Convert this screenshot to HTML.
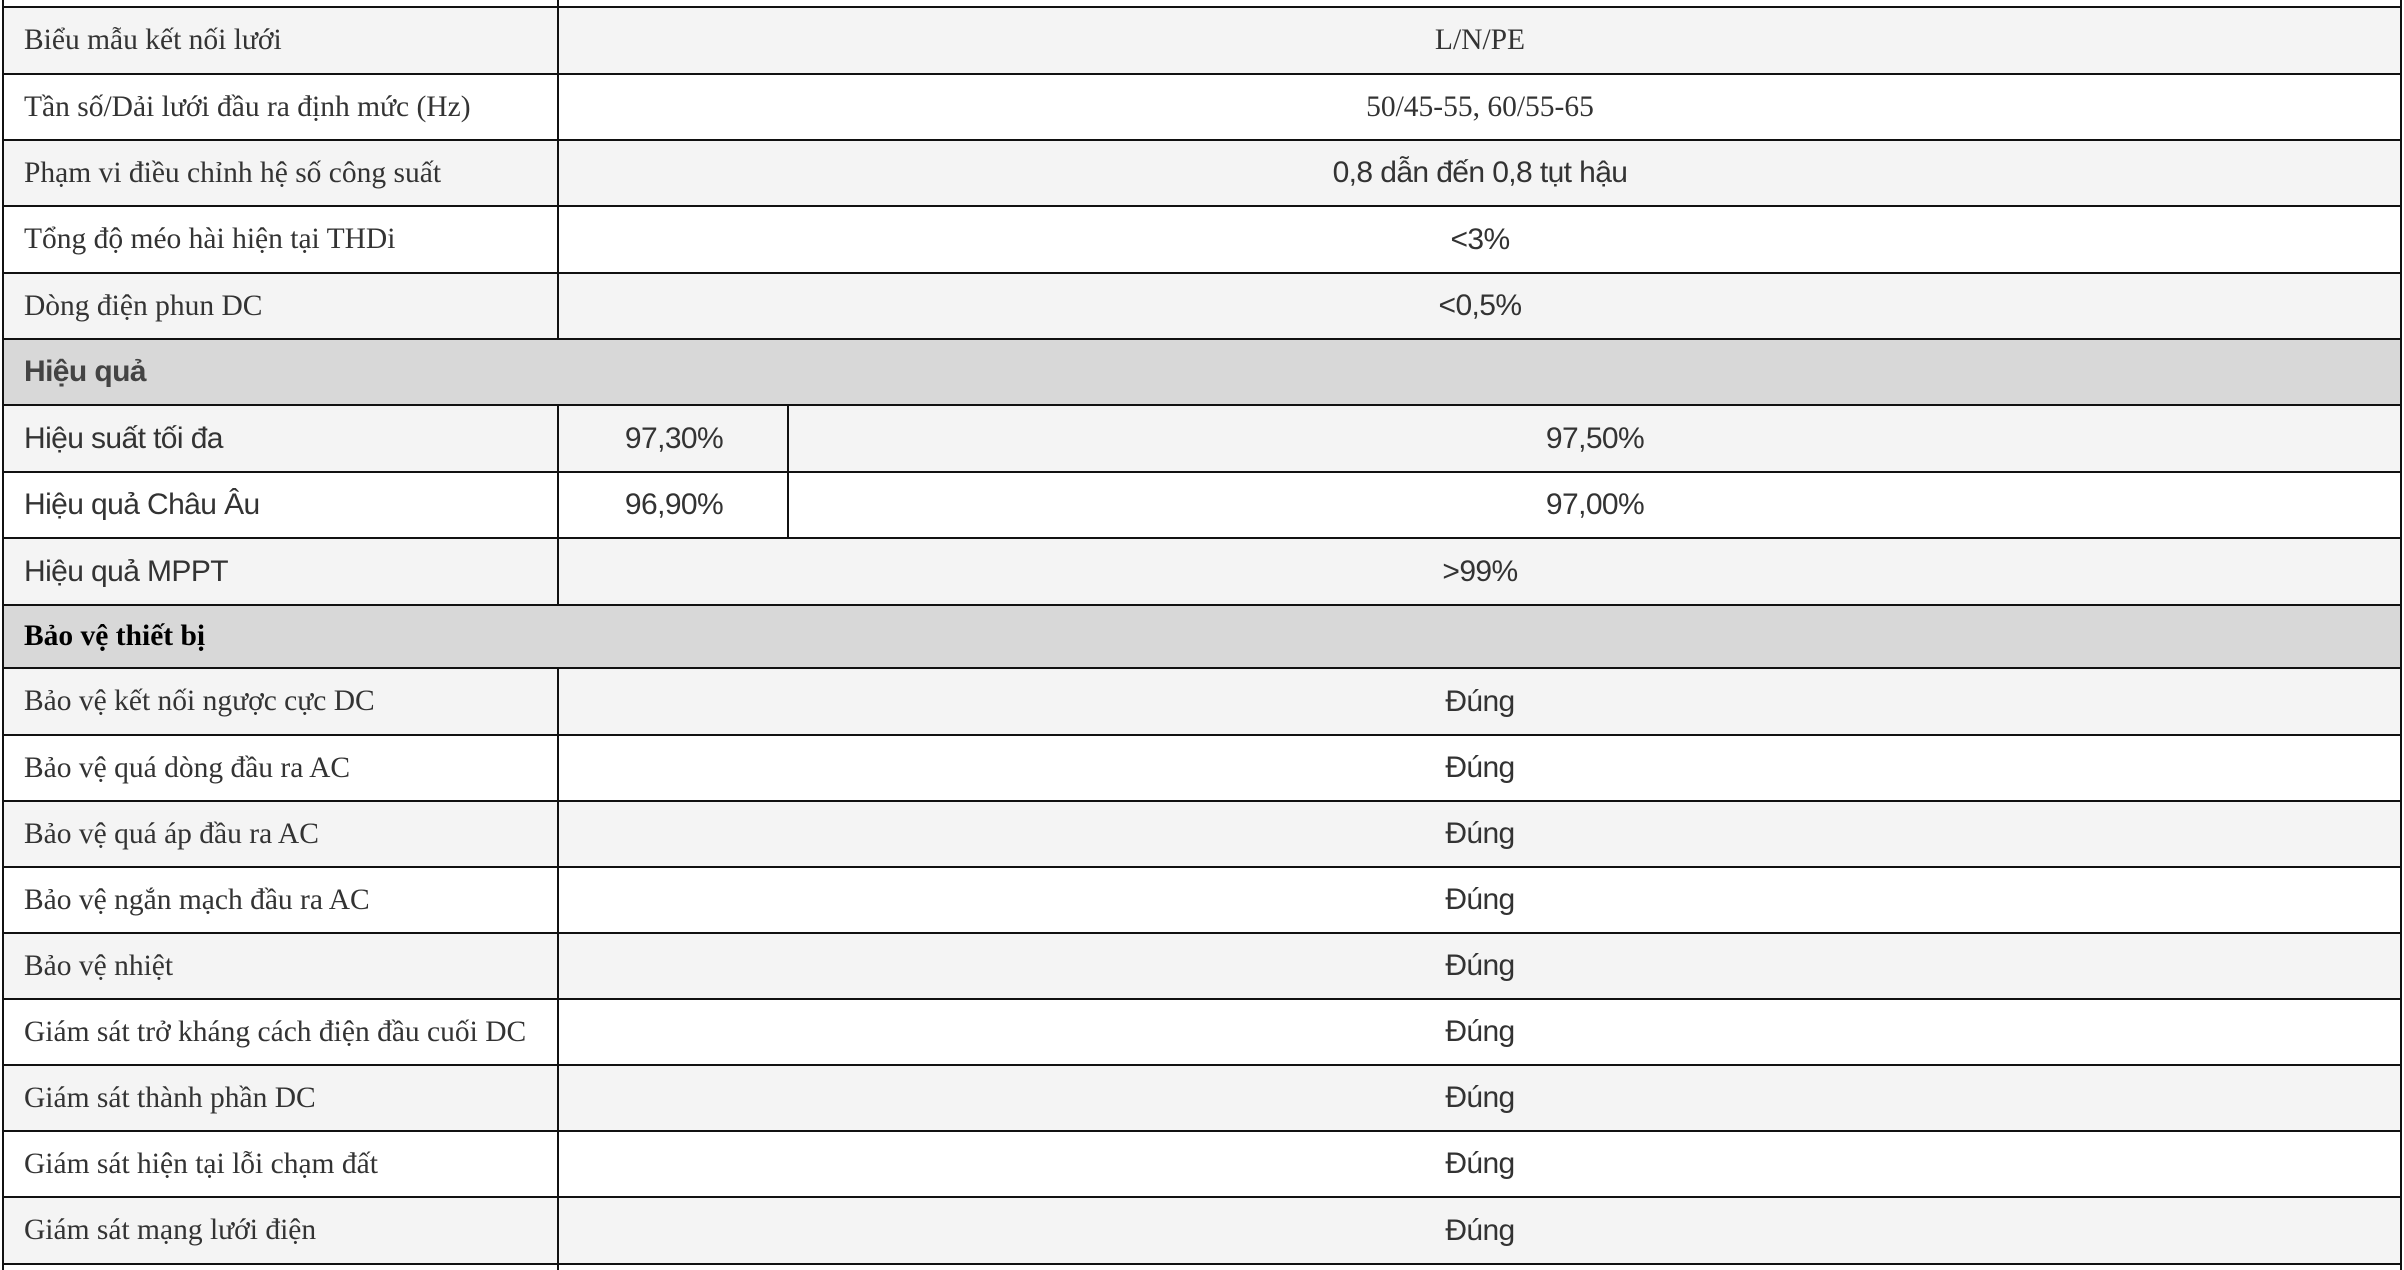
<!DOCTYPE html>
<html><head><meta charset="utf-8"><style>
html,body{margin:0;padding:0;background:#fff;width:2404px;height:1270px;overflow:hidden;position:relative}
.r{position:absolute;left:3px;width:2398px;box-sizing:border-box;border-top:2px solid #111}
.g{background:#f4f4f4}.w{background:#fff}.h{background:#d8d8d8}
.c{position:absolute;top:0;bottom:0;display:flex;align-items:center;color:#333;white-space:nowrap}
.l{left:21px}
.v{left:554px;right:0;justify-content:center;border-left:2px solid #111}
.v1{left:554px;width:230px;justify-content:center;border-left:2px solid #111}
.v2{left:784px;right:0;justify-content:center;border-left:2px solid #111}
.s{font-family:"Liberation Serif",serif;font-size:29.5px}
.a{font-family:"Liberation Sans",sans-serif;font-size:30px;letter-spacing:-0.6px}
.vl{position:absolute;top:0;height:1270px;width:2px;background:#111}
</style></head><body>
<div class="r w" style="top:-60px;height:68px"><div class="c v"></div></div>
<div class="r g" style="top:6px;height:67px"><div class="c l s">Biểu mẫu kết nối lưới</div><div class="c v s">L/N/PE</div></div>
<div class="r w" style="top:73px;height:66px"><div class="c l s">Tần số/Dải lưới đầu ra định mức (Hz)</div><div class="c v s">50/45-55, 60/55-65</div></div>
<div class="r g" style="top:139px;height:66px"><div class="c l s">Phạm vi điều chỉnh hệ số công suất</div><div class="c v a">0,8 dẫn đến 0,8 tụt hậu</div></div>
<div class="r w" style="top:205px;height:67px"><div class="c l s">Tổng độ méo hài hiện tại THDi</div><div class="c v a">&lt;3%</div></div>
<div class="r g" style="top:272px;height:66px"><div class="c l s">Dòng điện phun DC</div><div class="c v a">&lt;0,5%</div></div>
<div class="r h" style="top:338px;height:66px"><div class="c l a" style="font-weight:bold;color:#444">Hiệu quả</div></div>
<div class="r g" style="top:404px;height:67px"><div class="c l a">Hiệu suất tối đa</div><div class="c v1 a">97,30%</div><div class="c v2 a">97,50%</div></div>
<div class="r w" style="top:471px;height:66px"><div class="c l a">Hiệu quả Châu Âu</div><div class="c v1 a">96,90%</div><div class="c v2 a">97,00%</div></div>
<div class="r g" style="top:537px;height:67px"><div class="c l a">Hiệu quả MPPT</div><div class="c v a">&gt;99%</div></div>
<div class="r h" style="top:604px;height:63px"><div class="c l s" style="font-weight:bold;color:#000">Bảo vệ thiết bị</div></div>
<div class="r g" style="top:667px;height:67px"><div class="c l s">Bảo vệ kết nối ngược cực DC</div><div class="c v a">Đúng</div></div>
<div class="r w" style="top:734px;height:66px"><div class="c l s">Bảo vệ quá dòng đầu ra AC</div><div class="c v a">Đúng</div></div>
<div class="r g" style="top:800px;height:66px"><div class="c l s">Bảo vệ quá áp đầu ra AC</div><div class="c v a">Đúng</div></div>
<div class="r w" style="top:866px;height:66px"><div class="c l s">Bảo vệ ngắn mạch đầu ra AC</div><div class="c v a">Đúng</div></div>
<div class="r g" style="top:932px;height:66px"><div class="c l s">Bảo vệ nhiệt</div><div class="c v a">Đúng</div></div>
<div class="r w" style="top:998px;height:66px"><div class="c l s">Giám sát trở kháng cách điện đầu cuối DC</div><div class="c v a">Đúng</div></div>
<div class="r g" style="top:1064px;height:66px"><div class="c l s">Giám sát thành phần DC</div><div class="c v a">Đúng</div></div>
<div class="r w" style="top:1130px;height:66px"><div class="c l s">Giám sát hiện tại lỗi chạm đất</div><div class="c v a">Đúng</div></div>
<div class="r g" style="top:1196px;height:67px"><div class="c l s">Giám sát mạng lưới điện</div><div class="c v a">Đúng</div></div>
<div class="r w" style="top:1263px;height:20px"><div class="c v"></div></div>
<div class="vl" style="left:2px"></div>
<div class="vl" style="left:2400px"></div>
</body></html>
